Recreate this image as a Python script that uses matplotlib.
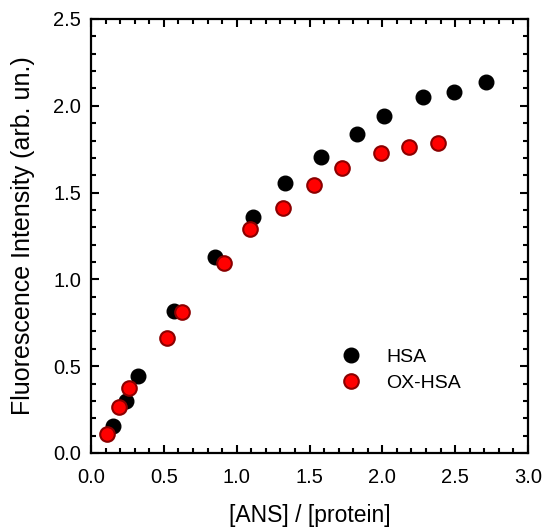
import matplotlib
matplotlib.use("Agg")
import matplotlib.pyplot as plt
from matplotlib.ticker import MultipleLocator, FormatStrFormatter

plt.rcParams['font.family'] = ['Liberation Sans', 'DejaVu Sans']

hsa_x = [0.149, 0.238, 0.325, 0.572, 0.851, 1.112, 1.331, 1.576, 1.823, 2.011, 2.279, 2.494, 2.709]
hsa_y = [0.157, 0.301, 0.444, 0.820, 1.129, 1.359, 1.555, 1.703, 1.838, 1.941, 2.049, 2.081, 2.137]

ox_x = [0.107, 0.190, 0.263, 0.524, 0.625, 0.913, 1.091, 1.318, 1.531, 1.720, 1.990, 2.180, 2.379]
ox_y = [0.109, 0.263, 0.376, 0.664, 0.810, 1.094, 1.290, 1.411, 1.544, 1.640, 1.730, 1.765, 1.784]

fig = plt.figure(figsize=(5.43, 5.28), dpi=100)
ax = fig.add_axes([91/543, 1-453/528, (528-91)/543, (453-19)/528])

ax.plot(hsa_x, hsa_y, 'o', color='black', markersize=10.5, markeredgecolor='black',
        markeredgewidth=1, label='HSA', linestyle='none')
ax.plot(ox_x, ox_y, 'o', color='red', markersize=10.5, markeredgecolor='#8b0000',
        markeredgewidth=1.5, label='OX-HSA', linestyle='none')

ax.set_xlim(0, 3.0)
ax.set_ylim(0, 2.5)
ax.xaxis.set_major_locator(MultipleLocator(0.5))
ax.xaxis.set_minor_locator(MultipleLocator(0.1))
ax.yaxis.set_major_locator(MultipleLocator(0.5))
ax.yaxis.set_minor_locator(MultipleLocator(0.1))
ax.xaxis.set_major_formatter(FormatStrFormatter('%.1f'))
ax.yaxis.set_major_formatter(FormatStrFormatter('%.1f'))
ax.tick_params(which='both', direction='in', top=True, right=True, width=1.5, labelsize=14.5)
ax.tick_params(axis='x', which='major', length=6, pad=11)
ax.tick_params(axis='y', which='major', length=6, pad=7)
ax.tick_params(which='minor', length=3.5)
for s in ax.spines.values():
    s.set_linewidth(1.6)

ax.set_xlabel('[ANS] / [protein]', fontsize=16.5, labelpad=12)
ax.set_ylabel('Fluorescence Intensity (arb. un.)', fontsize=18, labelpad=13)

ax.legend(loc='center left', bbox_to_anchor=(0.551, 0.191), frameon=False, fontsize=14,
          handletextpad=0.8, labelspacing=0.45, borderpad=0, borderaxespad=0)

fig.savefig('out.png', dpi=100)
